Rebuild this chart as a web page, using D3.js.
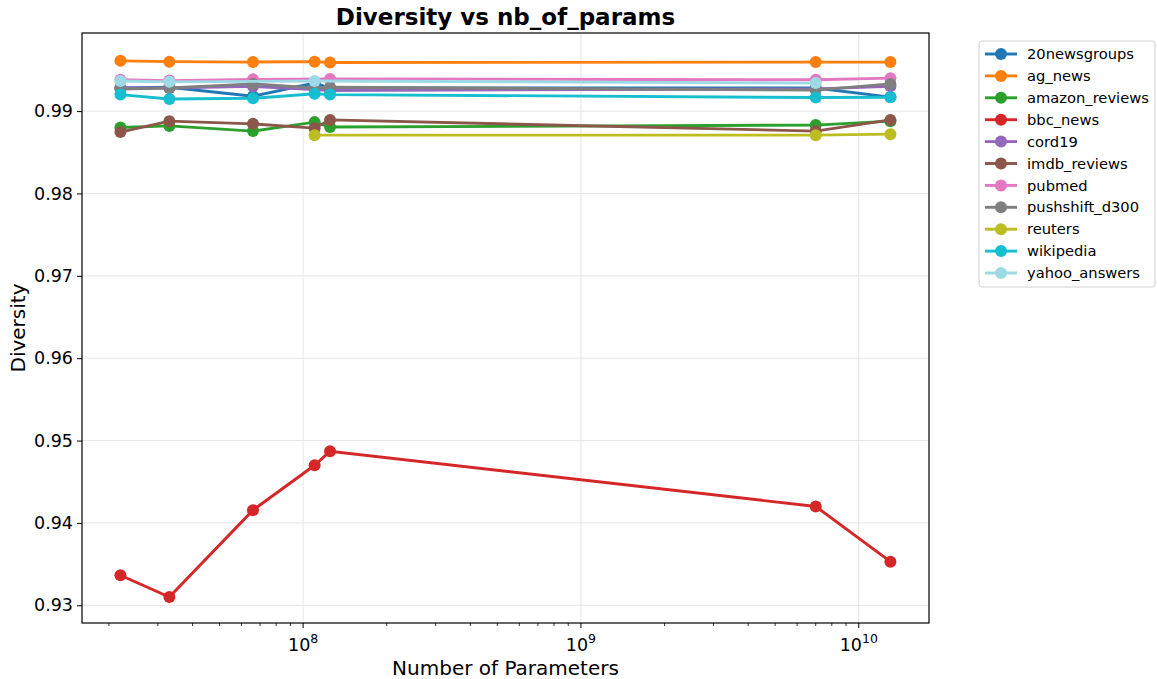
<!DOCTYPE html>
<html>
<head>
<meta charset="utf-8">
<script src="https://cdn.jsdelivr.net/npm/d3@7"></script>
<style>
  body { margin: 0; background: #fff; }
  text { font-family: "DejaVu Sans", sans-serif; fill: #000; }
  .grid line { stroke: #e6e6e6; stroke-width: 1; }
  .line { fill: none; stroke-width: 2.9; }
</style>
</head>
<body>
<div id="chart"></div>
<script>
// Number of parameters of each model (x positions)
var params = [22e6, 33e6, 66e6, 110e6, 125e6, 7e9, 13e9];

var datasets = ["20newsgroups", "ag_news", "amazon_reviews", "bbc_news", "cord19",
  "imdb_reviews", "pubmed", "pushshift_d300", "reuters", "wikipedia", "yahoo_answers"];

var colors = ["#1f77b4", "#ff7f0e", "#2ca02c", "#d62728", "#9467bd",
  "#8c564b", "#e377c2", "#7f7f7f", "#bcbd22", "#17becf", "#9edae5"];

// diversity per dataset, null = model not run on that dataset
var d20newsgroups  = [0.9928, 0.9929, 0.9918, 0.9934, 0.9928, 0.9928, 0.9917];
var dAgNews        = [0.9961, 0.9960, 0.99595, 0.9960, 0.9959, 0.99595, 0.99595];
var dAmazon        = [0.9880, 0.9882, 0.98757, 0.98866, 0.98806, 0.9883, 0.98878];
var dBbc           = [0.93365, 0.9310, 0.94155, 0.9470, 0.9487, 0.9420, 0.9353];
var dCord19        = [0.9928, 0.9928, 0.9930, 0.9926, 0.9925, 0.9927, 0.9930];
var dImdb          = [0.98745, 0.98878, 0.98845, 0.98793, 0.98893, 0.98757, 0.98893];
var dPubmed        = [0.9938, 0.9937, 0.99385, null, 0.9939, 0.9938, 0.9940];
var dPushshift     = [0.99267, 0.9928, 0.9933, 0.9928, 0.9929, 0.99255, 0.9933];
var dReuters       = [null, null, null, 0.98708, null, 0.98708, 0.9872];
var dWikipedia     = [0.9920, 0.99146, 0.99155, 0.9921, 0.9920, 0.99165, 0.99168];
var dYahoo         = [0.99365, 0.99355, null, 0.99365, null, 0.9934, null];

var values = [d20newsgroups, dAgNews, dAmazon, dBbc, dCord19, dImdb,
  dPubmed, dPushshift, dReuters, dWikipedia, dYahoo];

var yTicks = [0.93, 0.94, 0.95, 0.96, 0.97, 0.98, 0.99];
var xMajor = [1e8, 1e9, 1e10];

var chartWidth = 1157, chartHeight = 679;
var margin = {top: 33, right: 228, bottom: 56, left: 82};
var width = chartWidth - margin.left - margin.right,
    height = chartHeight - margin.top - margin.bottom;

var xScale = d3.scaleLog()
  .domain([1.6e7, 1.79e10])
  .range([0, width]);

var yScale = d3.scaleLinear()
  .domain([0.92785, 0.99948])
  .range([height, 0]);

var svg = d3.select("#chart")
  .append("svg")
  .attr("width", chartWidth)
  .attr("height", chartHeight);

var g = svg.append("g")
  .attr("transform", "translate(" + margin.left + "," + margin.top + ")");

// grid lines
var grid = g.append("g").attr("class", "grid");
grid.selectAll("line.gx")
  .data(xMajor)
  .enter().append("line")
  .attr("x1", function(d) { return xScale(d); })
  .attr("x2", function(d) { return xScale(d); })
  .attr("y1", 0).attr("y2", height);
grid.selectAll("line.gy")
  .data(yTicks)
  .enter().append("line")
  .attr("x1", 0).attr("x2", width)
  .attr("y1", function(d) { return yScale(d); })
  .attr("y2", function(d) { return yScale(d); });

// minor x ticks (2..9 in every decade)
var minor = [];
[1e7, 1e8, 1e9, 1e10].forEach(function(dec) {
  for (var k = 2; k < 10; k++) {
    var v = dec * k;
    if (v > xScale.domain()[0] && v < xScale.domain()[1]) minor.push(v);
  }
});

var xAxis = g.append("g")
  .attr("transform", "translate(0," + height + ")");
xAxis.selectAll("line.minor")
  .data(minor)
  .enter().append("line")
  .attr("x1", function(d) { return xScale(d); })
  .attr("x2", function(d) { return xScale(d); })
  .attr("y1", 0).attr("y2", 3)
  .attr("stroke", "#000").attr("stroke-width", 0.8);
var major = xAxis.selectAll("g.major")
  .data(xMajor)
  .enter().append("g")
  .attr("transform", function(d) { return "translate(" + xScale(d) + ",0)"; });
major.append("line")
  .attr("y1", 0).attr("y2", 5)
  .attr("stroke", "#000").attr("stroke-width", 1);
var lbl = major.append("text")
  .attr("y", 28)
  .attr("text-anchor", "middle")
  .style("font-size", "17.5px");
lbl.append("tspan").text("10");
lbl.append("tspan")
  .attr("dy", -8)
  .style("font-size", "12.5px")
  .text(function(d) { return Math.round(Math.log10(d)); });

// y axis
var yAxis = g.append("g")
  .call(d3.axisLeft(yScale).tickValues(yTicks).tickSize(5).tickPadding(4).tickFormat(d3.format(".2f")));
yAxis.select(".domain").remove();
yAxis.selectAll("text").style("font-size", "17.5px").style("font-family", "DejaVu Sans");
yAxis.selectAll("line").attr("stroke", "#000");

// frame
g.append("rect")
  .attr("width", width).attr("height", height)
  .attr("fill", "none").attr("stroke", "#000").attr("stroke-width", 1.2);

// the lines
var line = d3.line()
  .x(function(d) { return xScale(d[0]); })
  .y(function(d) { return yScale(d[1]); });

datasets.forEach(function(name, i) {
  var pts = params.map(function(p, j) { return [p, values[i][j]]; })
    .filter(function(d) { return d[1] !== null; });
  var sg = g.append("g");
  sg.append("path")
    .datum(pts)
    .attr("class", "line")
    .attr("stroke", colors[i])
    .attr("d", line);
  sg.selectAll("circle")
    .data(pts)
    .enter().append("circle")
    .attr("cx", function(d) { return xScale(d[0]); })
    .attr("cy", function(d) { return yScale(d[1]); })
    .attr("r", 6)
    .attr("fill", colors[i]);
});

// title and axis labels
svg.append("text")
  .attr("x", margin.left + width / 2).attr("y", 25)
  .attr("text-anchor", "middle")
  .style("font-size", "23px").style("font-weight", "bold")
  .text("Diversity vs nb_of_params");

svg.append("text")
  .attr("x", margin.left + width / 2).attr("y", 675)
  .attr("text-anchor", "middle")
  .style("font-size", "20px")
  .text("Number of Parameters");

svg.append("text")
  .attr("transform", "translate(25," + (margin.top + height / 2) + ") rotate(-90)")
  .attr("text-anchor", "middle")
  .style("font-size", "20px")
  .text("Diversity");

// legend
var legend = svg.append("g").attr("transform", "translate(979,41)");
legend.append("rect")
  .attr("width", 176).attr("height", 246)
  .attr("rx", 3)
  .attr("fill", "#fff").attr("stroke", "#d0d0d0");
var items = legend.selectAll("g.item")
  .data(datasets)
  .enter().append("g")
  .attr("transform", function(d, i) { return "translate(0," + (13 + i * 21.9) + ")"; });
items.append("line")
  .attr("x1", 6).attr("x2", 38)
  .attr("stroke", function(d, i) { return colors[i]; })
  .attr("stroke-width", 2.9);
items.append("circle")
  .attr("cx", 22).attr("r", 6)
  .attr("fill", function(d, i) { return colors[i]; });
items.append("text")
  .attr("x", 48).attr("dy", "0.35em")
  .style("font-size", "14.7px")
  .text(function(d) { return d; });
</script>
</body>
</html>
